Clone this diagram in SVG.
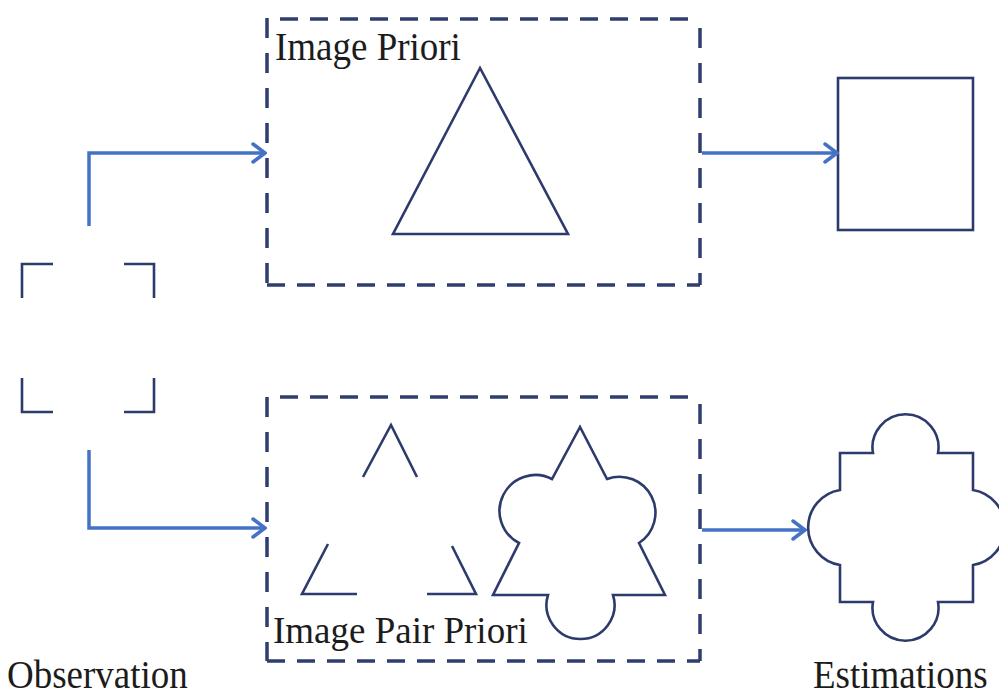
<svg xmlns="http://www.w3.org/2000/svg" width="999" height="698" viewBox="0 0 999 698">
  <style>
    .shape { fill: none; stroke: #2d3b6c; stroke-width: 2.6; stroke-linejoin: miter; stroke-linecap: butt; }
    .hdash { fill: none; stroke: #2f3e6e; stroke-width: 3.5; stroke-dasharray: 18 12; }
    .vdash { fill: none; stroke: #2f3e6e; stroke-width: 3.5; stroke-dasharray: 20 15; }
    .conn { fill: none; stroke: #4472c4; stroke-width: 3.5; }
    .label { font-family: "Liberation Serif", "Times New Roman", serif; font-size: 37px; fill: #1c1c1c; }
  </style>
  <defs>
    <marker id="arrow" markerUnits="userSpaceOnUse" viewBox="0 0 16 22" refX="14" refY="11" markerWidth="16" markerHeight="22" orient="auto">
      <path d="M2,2 L14,11 L2,20" fill="none" stroke="#4472c4" stroke-width="3.5" stroke-linecap="round" stroke-linejoin="miter"/>
    </marker>
  </defs>
  <rect width="999" height="698" fill="#ffffff"/>

  <!-- observation: four corner brackets -->
  <g id="observation">
    <polyline class="shape" points="22,298 22,264 53,264"/>
    <polyline class="shape" points="124,264 154,264 154,298"/>
    <polyline class="shape" points="22,378 22,412 53,412"/>
    <polyline class="shape" points="124,412 154,412 154,378"/>
    <text class="label" transform="translate(7,688) scale(1,1.1)">Observation</text>
  </g>

  <!-- image prior block -->
  <g id="image-priori">
    <line class="hdash" x1="280" y1="19" x2="700" y2="19"/>
    <line class="hdash" x1="267" y1="285" x2="700" y2="285"/>
    <line class="vdash" x1="267" y1="18" x2="267" y2="285"/>
    <line class="vdash" x1="700" y1="28" x2="700" y2="285"/>
    <text class="label" transform="translate(275,60) scale(1,1.1)">Image Priori</text>
    <polygon class="shape" points="480,68 393,234 568,234"/>
  </g>

  <!-- image pair prior block -->
  <g id="image-pair-priori">
    <line class="hdash" x1="280" y1="397" x2="700" y2="397"/>
    <line class="hdash" x1="267" y1="661" x2="700" y2="661"/>
    <line class="vdash" x1="267" y1="397" x2="267" y2="661"/>
    <line class="vdash" x1="700" y1="404" x2="700" y2="661"/>
    <text class="label" transform="translate(273,643) scale(1,1.05)">Image Pair Priori</text>
    <polyline class="shape" points="363,477 391,425 417,477"/>
    <polyline class="shape" points="328,544 302,594 357,594"/>
    <polyline class="shape" points="427,594 476,594 452,546"/>
    <path class="shape" d="M580,427 L552,479 A36,36 0 0 0 519,543 L493,595 L548,595 A34,34 0 1 0 613,595 L665,595 L639,543 A36,36 0 0 0 607,479 Z"/>
  </g>

  <!-- estimations -->
  <g id="estimation-square">
    <rect class="shape" x="838" y="78" width="135" height="152"/>
  </g>
  <g id="estimation-quatrefoil">
    <path class="shape" d="M840,453 L873,453 A33,33 0 1 1 938,453 L973,453 L973,490 A38,38 0 0 1 973,565 L973,602 L938,602 A33,33 0 1 1 873,602 L840,602 L840,565 A38,38 0 0 1 840,490 Z"/>
    <text class="label" transform="translate(813,688) scale(1,1.1)">Estimations</text>
  </g>

  <!-- connectors -->
  <g id="connectors">
    <polyline class="conn" points="89,226 89,153 265,153" marker-end="url(#arrow)"/>
    <polyline class="conn" points="89,450 89,528 265,528" marker-end="url(#arrow)"/>
    <line class="conn" x1="702" y1="153" x2="837" y2="153" marker-end="url(#arrow)"/>
    <line class="conn" x1="702" y1="530" x2="805" y2="530" marker-end="url(#arrow)"/>
  </g>
</svg>
